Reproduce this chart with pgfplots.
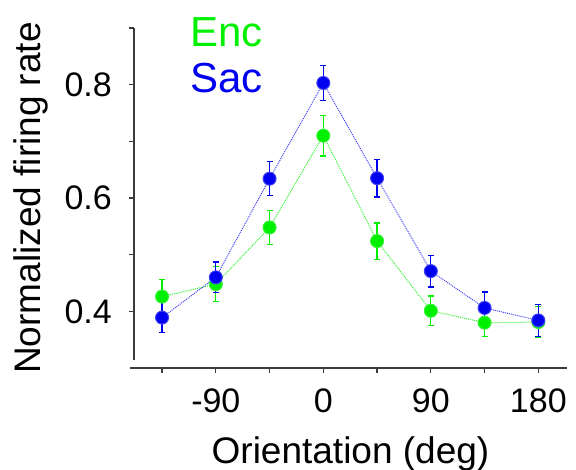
\documentclass[border=0pt]{standalone}
\usepackage{fontspec}
\setmainfont{Liberation Sans}
\usepackage{pgfplots}
\pgfplotsset{compat=1.18}
\definecolor{encg}{RGB}{0,240,0}
\definecolor{sacb}{RGB}{0,0,240}
\definecolor{axg}{RGB}{60,60,60}
\begin{document}
\begin{tikzpicture}
\useasboundingbox (0,0) rectangle (576pt,470pt);
\begin{axis}[
  at={(134pt,102pt)}, anchor=south west,
  scale only axis, width=433pt, height=340pt,
  xmin=-158.5, xmax=204, ymin=0.3, ymax=0.9,
  clip=false,
  axis x line*=bottom, axis y line*=left,
  axis line style={-, draw=axg, line width=1.5pt},
  y axis line style={shorten <=8pt},
  x axis line style={shorten <=-4pt},
  tick align=outside, major tick length=5pt,
  xtick style={draw=axg, line width=1.2pt},
  ytick style={draw=axg, line width=1.2pt},
  xtick={-135,-90,-45,0,45,90,135,180},
  xticklabels={,-90,,0,,90,,180},
  ytick={0.4,0.5,0.6,0.7,0.8,0.9},
  yticklabels={0.4,,0.6,,0.8,},
  /pgf/number format/assume math mode=true,
  tick label style={font=\fontsize{34}{40}\selectfont, inner sep=0pt},
  xticklabel style={yshift=-16pt},
  yticklabel style={xshift=-17pt},
  xlabel={Orientation (deg)},
  ylabel={Normalized firing rate},
  every axis x label/.style={at={(axis description cs:0.5,0)}, anchor=north, yshift=-68pt, inner sep=0pt, font=\fontsize{37}{44}\selectfont},
  every axis y label/.style={at={(axis description cs:-0.279,0.5)}, rotate=90, anchor=north, inner sep=0pt, font=\fontsize{37}{44}\selectfont},
]
\addplot[color=encg, draw=encg!80!white, densely dotted, line width=1pt,
  mark=*, mark size=6.5pt, mark options={solid, draw=none, fill=encg},
  error bars/.cd, y dir=both, y explicit,
  error bar style={solid, encg, line width=1.3pt},
  error mark=|,
  error mark options={mark size=3pt, solid, encg, line width=1.3pt}]
  table[x=x, y=y, y error=e] {
x y e
-135 0.426 0.030
-90 0.448 0.031
-45 0.548 0.030
0 0.710 0.036
45 0.524 0.032
90 0.401 0.026
135 0.380 0.025
180 0.381 0.027
};
\addplot[color=sacb, draw=sacb!75!white, densely dotted, line width=1pt,
  mark=*, mark size=6.5pt, mark options={solid, draw=none, fill=sacb},
  error bars/.cd, y dir=both, y explicit,
  error bar style={solid, sacb, line width=1.3pt},
  error mark=|,
  error mark options={mark size=3pt, solid, sacb, line width=1.3pt}]
  table[x=x, y=y, y error=e] {
x y e
-135 0.389 0.026
-90 0.460 0.027
-45 0.634 0.030
0 0.803 0.031
45 0.635 0.033
90 0.471 0.028
135 0.406 0.028
180 0.384 0.028
};
\node[anchor=base west, inner sep=0pt, text=encg, font=\fontsize{42}{50}\selectfont] at (axis cs:-111.5,0.867) {Enc};
\node[anchor=base west, inner sep=0pt, text=sacb, font=\fontsize{42}{50}\selectfont] at (axis cs:-111.5,0.786) {Sac};
\end{axis}
\end{tikzpicture}
\end{document}
